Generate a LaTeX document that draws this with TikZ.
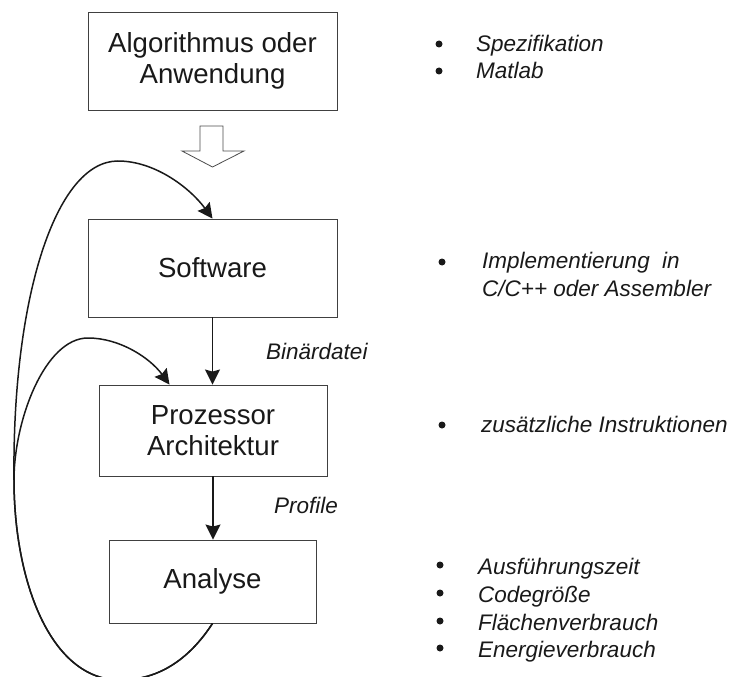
\documentclass[tikz,border=0pt]{standalone}
\usepackage{fontspec}
\setmainfont{Liberation Sans}
\usetikzlibrary{arrows.meta,calc}
\begin{document}
\begin{tikzpicture}[x=1pt,y=-1pt,
  box/.style={draw=black!75, line width=0.9pt, align=center, inner sep=0pt, text=black!90, font=\fontsize{27.6}{31.5}\selectfont},
  conn/.style={line width=1.5pt, draw=black!90, -{Stealth[length=15pt,width=15pt,inset=2pt]}},
  note/.style={anchor=base west, inner sep=0pt, font=\fontsize{22.5}{27}\selectfont\itshape, text=black!90},
  bul/.style={circle, fill=black!90, inner sep=0pt, minimum size=7pt},
  hollow/.style={draw=black!70, line width=0.8pt, fill=white}
  ]
\useasboundingbox (0,0) rectangle (734,677);

% boxes
\node[box, minimum width=249pt, minimum height=98pt] (alg) at (212.5,61) {Algorithmus oder\\Anwendung};
\node[box, minimum width=249pt, minimum height=98pt] (sw) at (212.5,268) {Software};
\node[box, minimum width=228pt, minimum height=91pt] (proz) at (213,430.5) {Prozessor\\Architektur};
\node[box, minimum width=207pt, minimum height=83pt] (ana) at (212.5,581.5) {Analyse};

% hollow arrow
\draw[hollow] (200,126) -- (223,126) -- (223,151) -- (244,151) -- (212.5,167) -- (182,151) -- (200,151) -- cycle;

% straight connectors
\draw[conn] (sw.south) -- (sw.south |- proz.north);
\draw[conn] (proz.south) -- (proz.south |- ana.north);

\node[note] (bin) at (266,359) {Binärdatei};
\node[note] (prof) at (274,513) {Profile};

% feedback loops
\coordinate (pin) at ($(proz.north west)!0.31!(proz.north east)$);
\draw[conn] (ana.south) .. controls (190,658) and (160,680) .. (120,680)
  .. controls (50,680) and (14,580) .. (14,480)
  .. controls (12,300) and (55,161) .. (118,161)
  .. controls (155,161) and (190,188) .. (sw.north);
\draw[conn] (ana.south) .. controls (190,658) and (160,680) .. (120,680)
  .. controls (50,680) and (14,580) .. (14,480)
  .. controls (14,420) and (45,338) .. (88,338)
  .. controls (120,338) and (150,358) .. (pin);

% right-hand notes
\node[bul] (b1) at (439,44) {};
\node[note] (t1) at (476,52) {Spezifikation};
\node[bul] (b2) at (439,71) {};
\node[note] (t2) at (476,78) {Matlab};

\node[bul] (b3) at (442,262) {};
\node[note] (t3) at (482,268) {Implementierung\ \ in};
\node[note] (t4) at (482,296) {C/C++ oder Assembler};

\node[bul] (b5) at (442,425) {};
\node[note] (t5) at (481,432) {zusätzliche Instruktionen};

\node[bul] (b6) at (440,565) {};
\node[note] (t6) at (478,574) {Ausführungszeit};
\node[bul] (b7) at (440,593) {};
\node[note] (t7) at (478,602) {Codegröße};
\node[bul] (b8) at (440,621) {};
\node[note] (t8) at (478,630) {Flächenverbrauch};
\node[bul] (b9) at (440,648) {};
\node[note] (t9) at (478,657) {Energieverbrauch};
\end{tikzpicture}
\end{document}
